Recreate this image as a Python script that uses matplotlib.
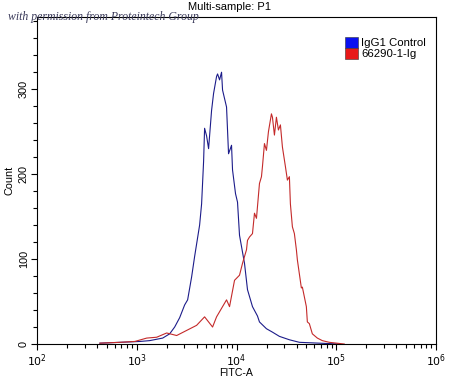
import matplotlib
matplotlib.use("Agg")
import matplotlib.pyplot as plt
from matplotlib.patches import Patch
from matplotlib.ticker import LogLocator, FixedLocator, NullFormatter

plt.rcParams['font.family'] = ['Liberation Sans', 'DejaVu Sans']

# Data (FITC-A intensity, event count)
igg_fitc = [427, 676, 1072, 1349, 1820, 2138, 2399, 2692, 3020, 3236, 3548, 3802,
            4266, 4467, 4677, 4786, 5012, 5248, 5623, 5888, 6310, 6457, 6761, 7079,
            7244, 7943, 8318, 8913, 9120, 9772, 10233, 10715, 12023, 12882, 14454,
            16218, 16982, 19953, 22909, 26915, 33884, 42658, 67608, 107152]
igg_count = [1, 2, 3, 4, 7, 12, 20, 31, 46, 52, 79, 103,
             140, 165, 215, 254, 245, 230, 275, 295, 315, 318, 311, 320,
             299, 279, 224, 234, 205, 177, 167, 128, 95, 64, 44,
             33, 26, 18, 14, 9, 5, 2, 1, 0]

ab_fitc = [427, 676, 955, 1259, 1585, 1995, 2512, 3162, 3981, 4786, 5754, 6310,
           7244, 7943, 8511, 9550, 10715, 11482, 12589, 12882, 13490, 14454, 15136,
           15849, 16982, 17783, 18197, 19055, 19953, 20893, 22387, 22909, 23988,
           25119, 26303, 27542, 28840, 30903, 32359, 33884, 34674, 36308, 38019,
           39811, 40738, 44668, 45709, 50119, 51286, 53703, 57544, 64565, 72444,
           85114, 120226]
ab_count = [1, 2, 3, 7, 8, 13, 10, 16, 22, 32, 20, 32,
            44, 52, 44, 75, 81, 95, 111, 122, 126, 130, 154,
            148, 189, 197, 209, 236, 228, 250, 271, 267, 246,
            267, 252, 258, 232, 209, 193, 197, 165, 138, 130,
            111, 99, 66, 67, 44, 26, 24, 12, 7, 4,
            2, 0]

series_names = ["IgG1 Control", "66290-1-Ig"]
line_colors = ["#1c1c8a", "#c42a2a"]
legend_colors = ["#0a10f0", "#e81818"]
y_major = [0, 100, 200, 300]
x_major = [1e2, 1e3, 1e4, 1e5, 1e6]

fig = plt.figure(figsize=(4.5, 3.78), dpi=100)
ax = fig.add_axes([0.0822, 0.0899, 0.8868, 0.8651])

ax.plot(igg_fitc, igg_count, color=line_colors[0], lw=0.8)
ax.plot(ab_fitc, ab_count, color=line_colors[1], lw=0.8)

ax.set_xscale('log')
ax.set_xlim(1e2, 1e6)
ax.set_ylim(0, 385)

ax.xaxis.set_major_locator(FixedLocator(x_major))
ax.xaxis.set_minor_locator(LogLocator(base=10, subs=range(2, 10)))
ax.xaxis.set_minor_formatter(NullFormatter())
ax.set_xticklabels([r'$10^{%d}$' % i for i in range(2, 7)])
ax.yaxis.set_major_locator(FixedLocator(y_major))
ax.yaxis.set_minor_locator(FixedLocator(list(range(0, 381, 20))))

ax.tick_params(axis='both', which='major', direction='out', length=4, width=0.8,
               labelsize=7.8, pad=2, colors='black')
ax.tick_params(axis='both', which='minor', direction='out', length=3, width=0.8)
for lab in ax.get_yticklabels():
    lab.set_rotation(90)
    lab.set_va('center')

for s in ax.spines.values():
    s.set_linewidth(0.8)

ax.set_xlabel('FITC-A', fontsize=7.6, labelpad=-1)
ax.set_ylabel('Count', fontsize=7.8, labelpad=3)

fig.text(0.51, 0.982, 'Multi-sample: P1', ha='center', va='center', fontsize=8)
fig.text(0.018, 0.955, 'with permission from Proteintech Group', ha='left', va='center',
         fontsize=8.5, family='Liberation Serif', style='italic', color='#3a3a5a')

handles = [Patch(facecolor=legend_colors[0], edgecolor='#333333', lw=0.4),
           Patch(facecolor=legend_colors[1], edgecolor='#333333', lw=0.4)]
ax.legend(handles, series_names, loc='upper right', frameon=False, fontsize=8.2,
          handlelength=1.1, handleheight=1.1, handletextpad=0.3, labelspacing=0.0,
          borderaxespad=0.6, bbox_to_anchor=(1.003, 0.975))

fig.savefig('out.png', dpi=100)
